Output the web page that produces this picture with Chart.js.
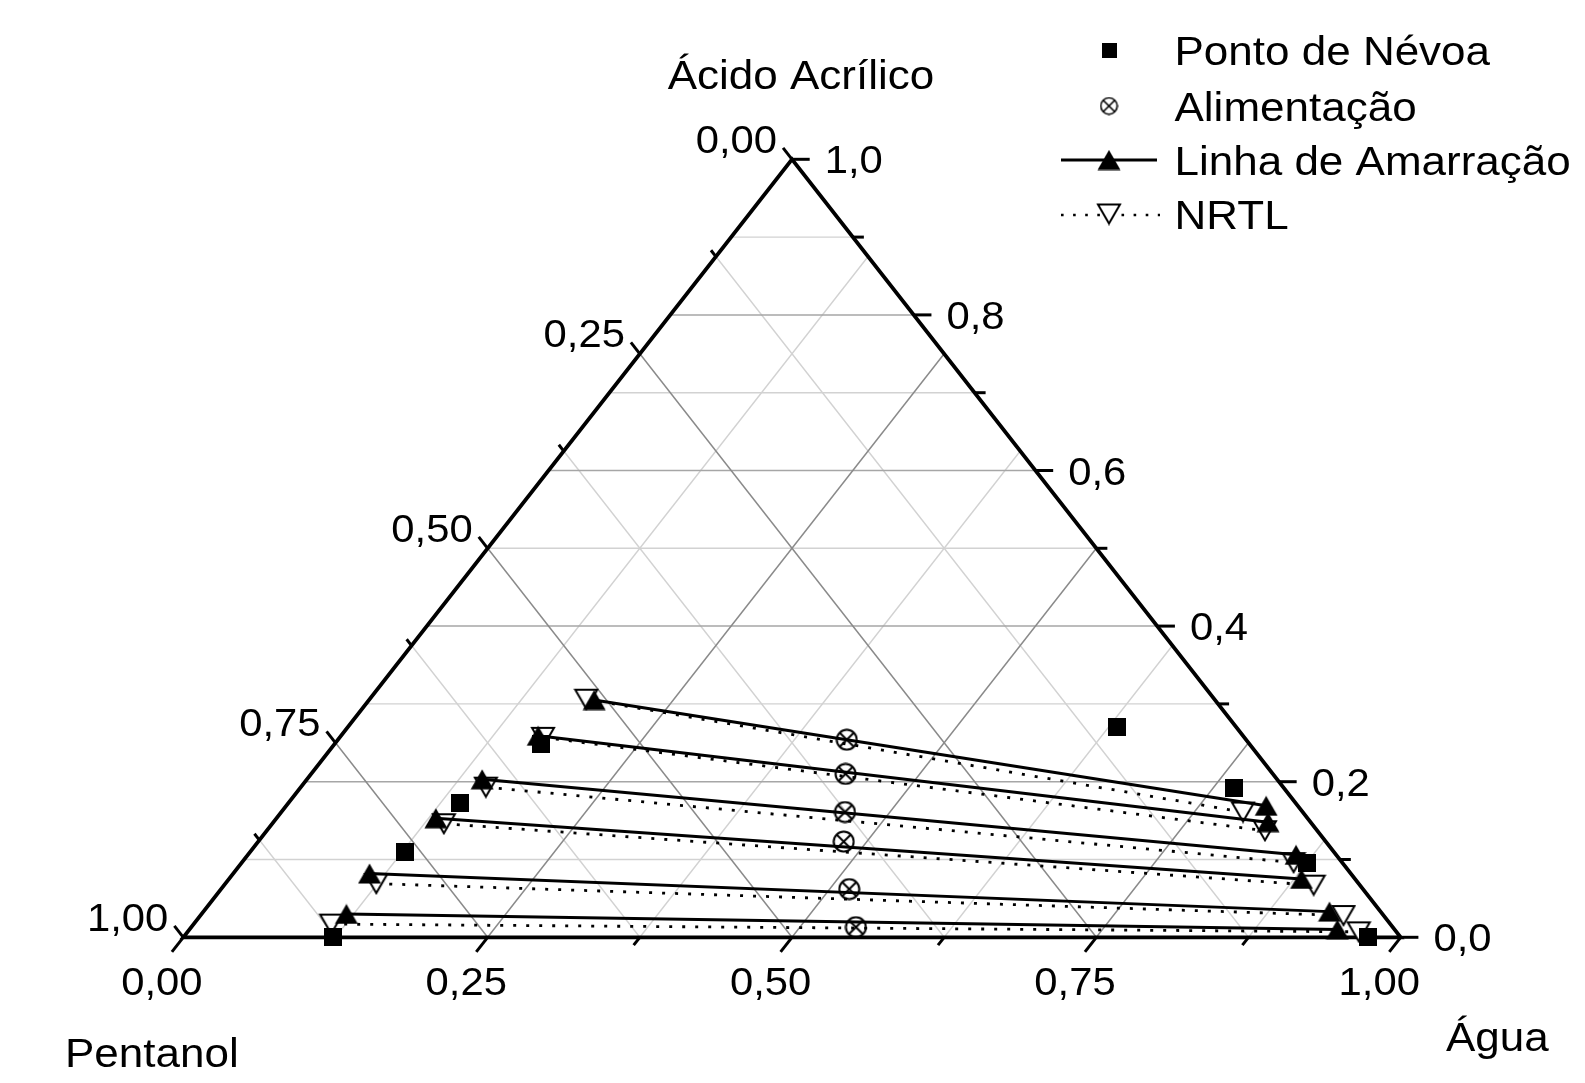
<!DOCTYPE html>
<html>
<head>
<meta charset="utf-8">
<script src="https://cdn.jsdelivr.net/npm/chart.js@4/dist/chart.umd.min.js"></script>
<style>
  html, body { margin: 0; padding: 0; background: #ffffff; }
  canvas { display: block; }
</style>
</head>
<body>
<canvas id="ternario" width="1585" height="1083"></canvas>
<script>
// Mass fractions of Água and Ácido Acrílico (Pentanol = 1 - Água - Ácido)

// Ponto de Névoa (binodal / cloud points)
const aguaNevoa  = [0.123, 0.127, 0.141, 0.169, 0.632, 0.767, 0.875, 0.973];
const acidoNevoa = [0.000, 0.110, 0.172, 0.249, 0.270, 0.192, 0.096, 0.000];

// Alimentação (overall feed compositions)
const aguaAlim  = [0.418, 0.439, 0.463, 0.481, 0.516, 0.546];
const acidoAlim = [0.254, 0.210, 0.161, 0.123, 0.062, 0.013];

// Linha de Amarração (experimental tie lines): organic and aqueous ends
const aguaOrg  = [0.185, 0.162, 0.144, 0.131, 0.112, 0.119];
const acidoOrg = [0.305, 0.259, 0.203, 0.153, 0.082, 0.030];
const aguaAq   = [0.805, 0.817, 0.861, 0.881, 0.925, 0.943];
const acidoAq  = [0.169, 0.148, 0.106, 0.075, 0.033, 0.010];

// NRTL (calculated tie lines)
const aguaOrgNRTL  = [0.178, 0.167, 0.152, 0.141, 0.124, 0.113];
const acidoOrgNRTL = [0.306, 0.257, 0.193, 0.146, 0.069, 0.017];
const aguaAqNRTL   = [0.790, 0.820, 0.864, 0.895, 0.939, 0.962];
const acidoAqNRTL  = [0.161, 0.137, 0.096, 0.067, 0.028, 0.007];

// Axis tick labels
const ticksAgua     = ['0,00', '0,25', '0,50', '0,75', '1,00'];
const ticksPentanol = ['0,00', '0,25', '0,50', '0,75', '1,00'];
const ticksAcido    = ['0,0', '0,2', '0,4', '0,6', '0,8', '1,0'];

// Titles and legend entries
const tituloAcido = 'Ácido Acrílico';
const tituloPentanol = 'Pentanol';
const tituloAgua = 'Água';
const legendaTextos = ['Ponto de Névoa', 'Alimentação', 'Linha de Amarração', 'NRTL'];

const FONT = '"Liberation Sans", Arial, Helvetica, sans-serif';
const STRETCH = 1.1;

// Ternary composition -> cartesian position on the triangle
function toXY(agua, acido) {
  return { x: agua + acido / 2, y: acido };
}

// Marker sprites
function sprite(w, h, draw) {
  const c = document.createElement('canvas');
  c.width = w; c.height = h;
  draw(c.getContext('2d'), w, h);
  return c;
}
const mkSquare = sprite(18, 18, (g, w, h) => {
  g.fillStyle = '#000';
  g.fillRect(0, 0, w, h);
});
const mkSquareSmall = sprite(15, 15, (g, w, h) => {
  g.fillStyle = '#000';
  g.fillRect(0, 0, w, h);
});
const mkTriUp = sprite(24, 21, (g) => {
  g.fillStyle = '#000';
  g.beginPath();
  g.moveTo(12, 0.5); g.lineTo(23.5, 20.5); g.lineTo(0.5, 20.5);
  g.closePath(); g.fill();
});
const mkTriDown = sprite(26, 23, (g) => {
  g.fillStyle = '#fff';
  g.strokeStyle = '#000';
  g.lineWidth = 2;
  g.lineJoin = 'miter';
  g.beginPath();
  g.moveTo(2, 2); g.lineTo(24, 2); g.lineTo(13, 21);
  g.closePath(); g.fill(); g.stroke();
});
function feedSprite(size, lw) {
  return sprite(size, size, (g, w) => {
    const c = w / 2, r = w / 2 - lw / 2 - 0.5;
    g.strokeStyle = '#000';
    g.lineWidth = lw;
    g.beginPath(); g.arc(c, c, r, 0, Math.PI * 2); g.stroke();
    const d = r * Math.SQRT1_2;
    g.beginPath();
    g.moveTo(c - d, c - d); g.lineTo(c + d, c + d);
    g.moveTo(c + d, c - d); g.lineTo(c - d, c + d);
    g.stroke();
  });
}
const mkFeed = feedSprite(23, 2);
const mkFeedSmall = feedSprite(19, 1.6);

// Datasets
const datasets = [];
for (let i = 0; i < aguaOrgNRTL.length; i++) {
  datasets.push({
    label: 'NRTL',
    data: [toXY(aguaOrgNRTL[i], acidoOrgNRTL[i]), toXY(aguaAqNRTL[i], acidoAqNRTL[i])],
    showLine: true,
    borderColor: '#000',
    borderWidth: 2.8,
    borderDash: [3, 10],
    borderCapStyle: 'butt',
    pointStyle: mkTriDown,
    pointRadius: 11,
    clip: false,
    order: 4
  });
}
for (let i = 0; i < aguaOrg.length; i++) {
  datasets.push({
    label: 'Linha de Amarração',
    data: [toXY(aguaOrg[i], acidoOrg[i]), toXY(aguaAq[i], acidoAq[i])],
    showLine: true,
    borderColor: '#000',
    borderWidth: 3,
    pointStyle: mkTriUp,
    pointRadius: 11,
    clip: false,
    order: 3
  });
}
datasets.push({
  label: 'Ponto de Névoa',
  data: aguaNevoa.map((a, i) => toXY(a, acidoNevoa[i])),
  showLine: false,
  pointStyle: mkSquare,
  pointRadius: 9,
  clip: false,
  order: 2
});
datasets.push({
  label: 'Alimentação',
  data: aguaAlim.map((a, i) => toXY(a, acidoAlim[i])),
  showLine: false,
  pointStyle: mkFeed,
  pointRadius: 10,
  clip: false,
  order: 1
});

function drawText(ctx, text, x, y, align, size) {
  ctx.save();
  ctx.translate(x, y);
  ctx.scale(STRETCH, 1);
  ctx.font = size + 'px ' + FONT;
  ctx.fillStyle = '#000';
  ctx.textAlign = align;
  ctx.textBaseline = 'alphabetic';
  ctx.fillText(text, 0, 0);
  ctx.restore();
}

const ternaryFrame = {
  id: 'ternaryFrame',
  beforeDatasetsDraw(chart) {
    const ctx = chart.ctx;
    const xs = chart.scales.x, ys = chart.scales.y;
    const P = (agua, acido) => ({ x: xs.getPixelForValue(agua + acido / 2), y: ys.getPixelForValue(acido) });
    const seg = (a, b, color, w) => {
      ctx.strokeStyle = color; ctx.lineWidth = w;
      ctx.beginPath(); ctx.moveTo(a.x, a.y); ctx.lineTo(b.x, b.y); ctx.stroke();
    };
    ctx.save();
    ctx.lineCap = 'butt';

    const MINOR = '#d2d2d2', MAJOR_H = '#a6a6a6', MAJOR_D = '#8a8a8a';
    // minor grid
    for (let k = 1; k < 10; k += 2) {
      const a = k / 10;
      seg(P(0, a), P(1 - a, a), MINOR, 1.4);
    }
    for (let k = 1; k < 8; k += 2) {
      const f = k / 8;
      seg(P(f, 0), P(f, 1 - f), MINOR, 1.4);
      seg(P(0, 1 - f), P(1 - f, 0), MINOR, 1.4);
    }
    // major grid
    for (let k = 2; k < 10; k += 2) {
      const a = k / 10;
      seg(P(0, a), P(1 - a, a), MAJOR_H, 1.5);
    }
    for (let k = 2; k < 8; k += 2) {
      const f = k / 8;
      seg(P(f, 0), P(f, 1 - f), MAJOR_D, 1.5);
      seg(P(0, 1 - f), P(1 - f, 0), MAJOR_D, 1.5);
    }

    // triangle frame
    const A = P(0, 1), BL = P(0, 0), BR = P(1, 0);
    ctx.strokeStyle = '#000';
    ctx.lineWidth = 3.8;
    ctx.lineJoin = 'miter';
    ctx.beginPath();
    ctx.moveTo(BL.x, BL.y); ctx.lineTo(BR.x, BR.y); ctx.lineTo(A.x, A.y);
    ctx.closePath(); ctx.stroke();

    // tick directions
    const unit = (p, q) => { const dx = q.x - p.x, dy = q.y - p.y, l = Math.hypot(dx, dy); return { x: dx / l, y: dy / l }; };
    const dBottom = unit(A, BL);   // down-left, parallel to left side
    const dLeft = unit(BR, A);     // up-left, parallel to right side
    ctx.lineWidth = 3;
    const tick = (p, d, len) => {
      ctx.beginPath(); ctx.moveTo(p.x, p.y); ctx.lineTo(p.x + d.x * len, p.y + d.y * len); ctx.stroke();
    };
    for (let k = 0; k <= 8; k++) {
      const f = k / 8, major = k % 2 === 0;
      tick(P(f, 0), dBottom, major ? 18.5 : 10);
      tick(P(0, 1 - f), dLeft, major ? 14.5 : 8);
    }
    for (let k = 0; k <= 10; k++) {
      const a = k / 10, major = k % 2 === 0;
      tick(P(1 - a, a), { x: 1, y: 0 }, major ? 17.7 : 11);
    }
    ctx.restore();
  },
  afterDraw(chart) {
    const ctx = chart.ctx;
    const xs = chart.scales.x, ys = chart.scales.y;
    const P = (agua, acido) => ({ x: xs.getPixelForValue(agua + acido / 2), y: ys.getPixelForValue(acido) });
    const A = P(0, 1), BL = P(0, 0), BR = P(1, 0);
    const unit = (p, q) => { const dx = q.x - p.x, dy = q.y - p.y, l = Math.hypot(dx, dy); return { x: dx / l, y: dy / l }; };
    const dBottom = unit(A, BL), dLeft = unit(BR, A);

    // bottom (Água) labels
    ticksAgua.forEach((t, i) => {
      const f = i / (ticksAgua.length - 1);
      const p = P(f, 0);
      const ex = p.x + dBottom.x * 18.5, ey = p.y + dBottom.y * 18.5;
      drawText(ctx, t, ex - 10, ey + 43, 'center', 38);
    });
    // left (Pentanol) labels
    ticksPentanol.forEach((t, i) => {
      const f = i / (ticksPentanol.length - 1);
      const p = P(0, 1 - f);
      const ex = p.x + dLeft.x * 14.5, ey = p.y + dLeft.y * 14.5;
      drawText(ctx, t, ex - 6, ey + 5, 'right', 38);
    });
    // right (Ácido Acrílico) labels
    ticksAcido.forEach((t, i) => {
      const a = i / (ticksAcido.length - 1);
      const p = P(1 - a, a);
      drawText(ctx, t, p.x + 17.7 + 15, p.y + 14, 'left', 38);
    });

    // axis titles
    drawText(ctx, tituloAcido, A.x + 9, 89, 'center', 40);
    drawText(ctx, tituloPentanol, 65, 1067, 'left', 40);
    drawText(ctx, tituloAgua, 1446, 1051, 'left', 40);

    // legend
    const rows = [50.5, 106, 160, 214];
    const mx = 1109, tx = 1174.5;
    const img = (s, x, y) => ctx.drawImage(s, x - s.width / 2, y - s.height / 2);
    ctx.save();
    ctx.strokeStyle = '#000';
    ctx.lineCap = 'butt';
    img(mkSquareSmall, mx, rows[0]);
    img(mkFeedSmall, mx, rows[1]);
    ctx.lineWidth = 2.8;
    ctx.beginPath(); ctx.moveTo(1061, rows[2]); ctx.lineTo(1157, rows[2]); ctx.stroke();
    img(mkTriUp, mx, rows[2]);
    ctx.lineWidth = 2.6;
    ctx.setLineDash([2.6, 9.5]);
    ctx.beginPath(); ctx.moveTo(1061, rows[3] + 1); ctx.lineTo(1160, rows[3] + 1); ctx.stroke();
    ctx.setLineDash([]);
    img(mkTriDown, mx, rows[3]);
    ctx.restore();
    legendaTextos.forEach((t, i) => drawText(ctx, t, tx, rows[i] + 14.5, 'left', 40));
  }
};

new Chart(document.getElementById('ternario'), {
  type: 'scatter',
  data: { datasets },
  options: {
    responsive: false,
    animation: false,
    events: [],
    layout: { padding: { left: 183.3, right: 184.3, top: 159.3, bottom: 145.7 } },
    scales: {
      x: { type: 'linear', min: 0, max: 1, display: false },
      y: { type: 'linear', min: 0, max: 1, display: false }
    },
    plugins: {
      legend: { display: false },
      tooltip: { enabled: false }
    }
  },
  plugins: [ternaryFrame]
});
</script>
</body>
</html>
